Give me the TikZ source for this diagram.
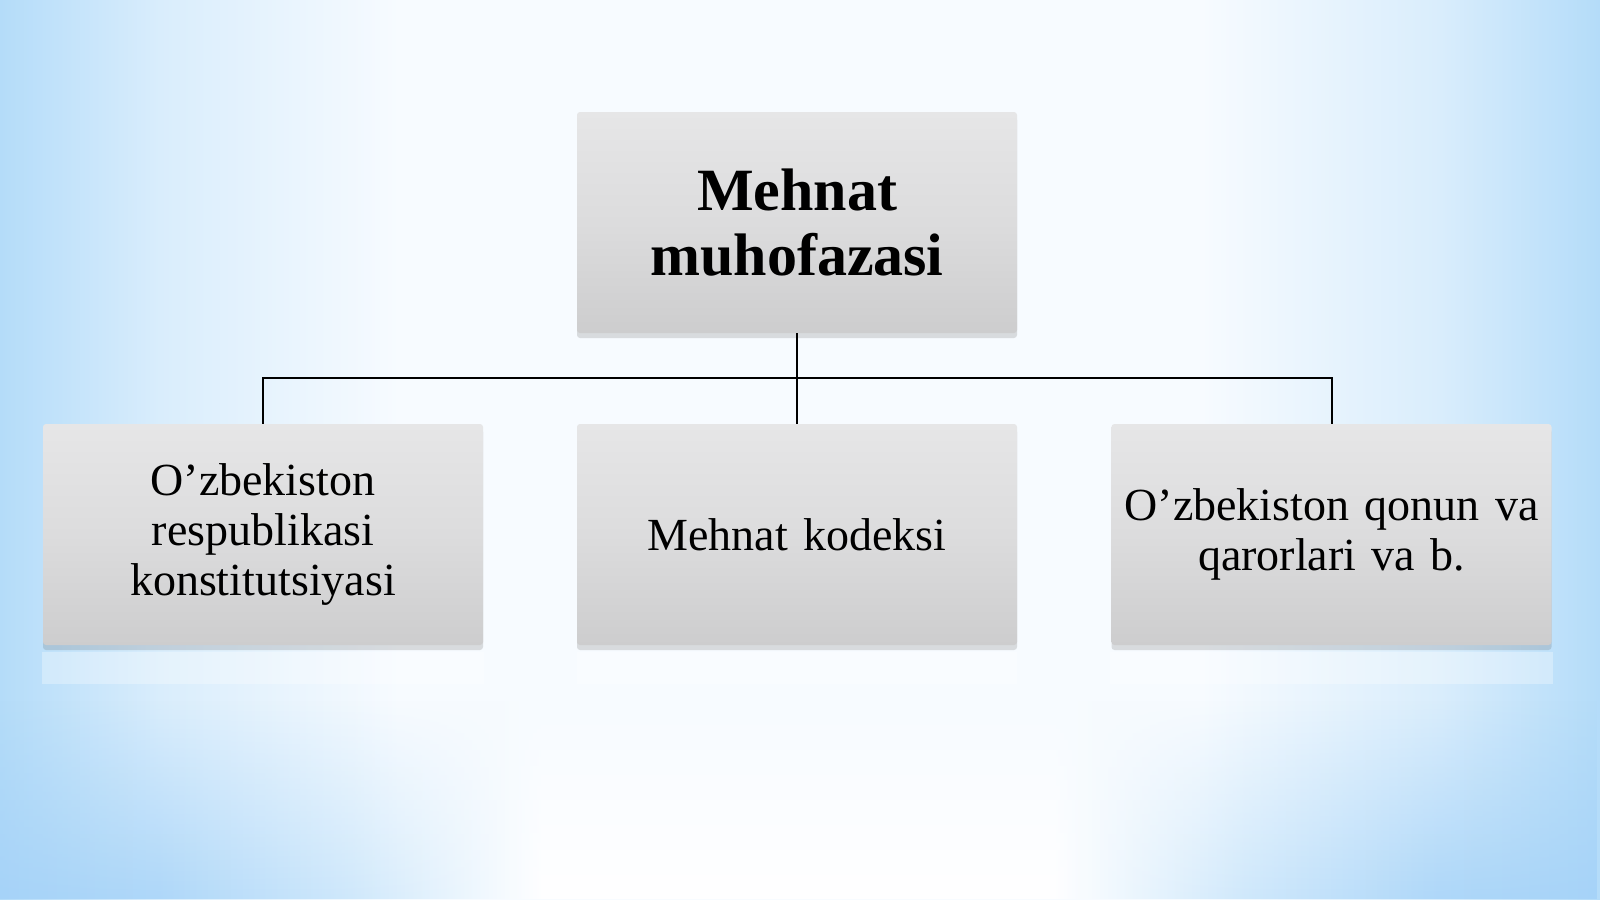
\documentclass[tikz,border=0pt]{standalone}
\usepackage{fontspec}
\setmainfont{Liberation Serif}
\usetikzlibrary{shadows,fadings}
\definecolor{bgblue}{HTML}{B4DCF9}
\definecolor{bgmid}{HTML}{D9EDFC}
\definecolor{bgcen}{HTML}{F7FBFF}
\definecolor{bbblue}{HTML}{A6D3F8}
\definecolor{bbmid}{HTML}{CFE8FB}
\definecolor{boxtop}{HTML}{E6E6E7}
\definecolor{boxbot}{HTML}{CDCDCE}
\pgfdeclarehorizontalshading{bgh}{100bp}{color(0bp)=(bgblue); color(25bp)=(bgblue); color(30bp)=(bgmid); color(37.5bp)=(bgcen); color(62.5bp)=(bgcen); color(70bp)=(bgmid); color(75bp)=(bgblue); color(100bp)=(bgblue)}
\pgfdeclarehorizontalshading{bgb}{100bp}{color(0bp)=(bbblue); color(25bp)=(bbblue); color(30bp)=(bbblue!80!bbmid); color(36bp)=(bbmid); color(42bp)=(white); color(58bp)=(white); color(64bp)=(bbmid); color(70bp)=(bbblue!80!bbmid); color(75bp)=(bbblue); color(100bp)=(bbblue)}
\tikzfading[name=fadein, top color=transparent!100, bottom color=transparent!0]
\tikzset{
  boxnode/.style={rectangle, rounded corners=3pt, minimum width=440pt, minimum height=221pt,
    top color=boxtop, bottom color=boxbot, middle color=boxtop!60!boxbot,
    text width=420pt, align=center, inner sep=0pt,
    drop shadow={shadow xshift=0pt, shadow yshift=-5pt, opacity=0.18, fill=black!70}},
  bodytext/.style={font=\fontsize{46}{50}\selectfont},
  titletext/.style={font=\bfseries\fontsize{60}{65}\selectfont},
  conn/.style={draw=black, line width=2pt},
  refl/.style={fill=white, opacity=0.3}
}
\begin{document}
\begin{tikzpicture}[x=1pt,y=-1pt]
\useasboundingbox (0,0) rectangle (1600,899);
\shade[shading=bgh] (0,0) rectangle (1600,899);
\shade[shading=bgb, path fading=fadein] (0,700) rectangle (1600,899);
% faint reflections
\fill[refl] (42,652) rectangle (484,684);
\fill[refl] (577,652) rectangle (1017,684);
\fill[refl] (1110,652) rectangle (1553,684);

\node[boxnode, titletext] (top) at (797,222.5) {Mehnat\\muhofazasi};
\node[boxnode, bodytext] (b1) at (263,534.5) {O’zbekiston\\respublikasi\\konstitutsiyasi};
\node[boxnode, bodytext] (b2) at (797,534.5) {Mehnat kodeksi};
\node[boxnode, bodytext] (b3) at (1331.5,534.5) {O’zbekiston qonun va\\qarorlari va b.};

\coordinate (bus) at (797,378);
\draw[conn] (top.south) -- (bus);
\draw[conn] (bus) -- (b2.north);
\draw[conn] (b1.north) |- (bus);
\draw[conn] (b3.north) |- (bus);
\end{tikzpicture}
\end{document}
